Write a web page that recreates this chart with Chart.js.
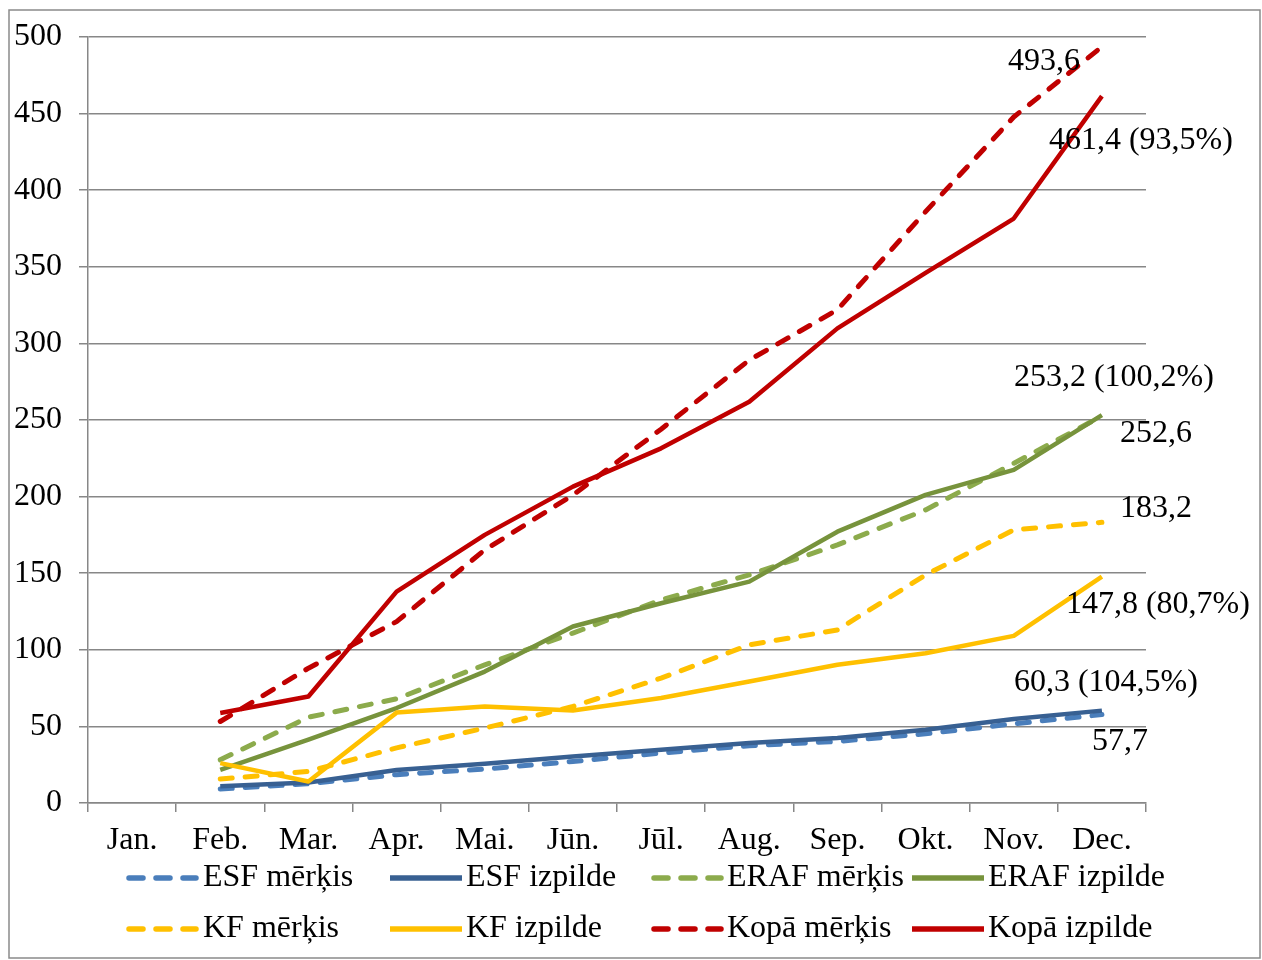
<!DOCTYPE html>
<html>
<head>
<meta charset="utf-8">
<script src="https://cdn.jsdelivr.net/npm/chart.js@4"></script>
<style>
  body { margin: 0; background: #fff; }
  #wrap { width: 1262px; height: 960px; }
</style>
</head>
<body>
<div id="wrap"><canvas id="chart" width="1262" height="960"></canvas></div>
<script>
// ---------- DATA ----------
const months = ["Jan.", "Feb.", "Mar.", "Apr.", "Mai.", "Jūn.", "Jūl.", "Aug.", "Sep.", "Okt.", "Nov.", "Dec."];
const seriesNames = ["ESF mērķis", "ESF izpilde", "ERAF mērķis", "ERAF izpilde",
                     "KF mērķis", "KF izpilde", "Kopā mērķis", "Kopā izpilde"];
const esfTarget  = [null, 9.1, 12.6, 18.5, 22.2, 27.1, 32.6, 37.4, 40.2, 45.2, 51.7, 57.7];
const esfDone    = [null, 10.9, 13.4, 21.5, 25.6, 30.4, 34.8, 39.1, 42.4, 47.8, 54.8, 60.3];
const erafTarget = [null, 28.2, 56, 68, 90.2, 110.9, 132.6, 148.9, 168.5, 191.3, 221.7, 252.6];
const erafDone   = [null, 21.7, 41.3, 62, 85.8, 115.2, 130.4, 144.5, 177.1, 201.1, 217.4, 253.2];
const kfTarget   = [null, 15.6, 20.6, 36, 48.9, 63, 81.5, 103.2, 113, 148.9, 178.3, 183.2];
const kfDone     = [null, 26, 14, 59, 63, 60.4, 68.5, 79.3, 90.2, 97.8, 109.1, 147.8];
const totTarget  = [null, 53.2, 88, 118.4, 165.2, 201, 244, 289.1, 322, 386, 447.8, 493.6];
const totDone    = [null, 58.7, 69.5, 138, 175, 206.5, 231.5, 261.9, 309.8, 346, 381.5, 461.4];
const endLabels  = ["57,7", "60,3 (104,5%)", "252,6", "253,2 (100,2%)",
                    "183,2", "147,8 (80,7%)", "493,6", "461,4 (93,5%)"];
const yTicks = { min: 0, max: 500, step: 50 };

// ---------- STYLE ----------
const FONT = "'Liberation Serif', 'Times New Roman', serif";
const colors = ["#4a7ebb", "#386092", "#8cab4c", "#77933c", "#ffc000", "#ffc000", "#c00000", "#c00000"];
const gridColor = "#878787";
const DASH = [12, 13];

// label offsets from the last point (dx, dy)
const labelOffsets = [[-10, 27], [-88, -28], [18, 18], [-88, -38], [18, -14], [-36, 28], [-94, 15], [-53, 44]];

const allSeries = [esfTarget, esfDone, erafTarget, erafDone, kfTarget, kfDone, totTarget, totDone];

const datasets = allSeries.map((data, i) => {
  const dashed = i % 2 === 0;
  return {
    label: seriesNames[i],
    data,
    borderColor: colors[i],
    backgroundColor: colors[i],
    borderWidth: dashed ? 5 : 4.5,
    borderDash: dashed ? DASH : [],
    borderCapStyle: dashed ? "round" : "butt",
    borderJoinStyle: "round",
    pointRadius: 0,
    tension: 0,
    order: 7 - i
  };
});

// ---------- PLUGINS ----------
const framePlugin = {
  id: "frame",
  beforeDraw(chart) {
    const ctx = chart.ctx;
    ctx.save();
    ctx.fillStyle = "#fff";
    ctx.fillRect(0, 0, chart.width, chart.height);
    ctx.strokeStyle = "#8a8a8a";
    ctx.lineWidth = 1.5;
    ctx.strokeRect(9, 10, 1251, 948);
    ctx.restore();
  }
};

const endLabelPlugin = {
  id: "endLabels",
  afterDatasetsDraw(chart) {
    const ctx = chart.ctx;
    ctx.save();
    ctx.font = "32px " + FONT;
    ctx.fillStyle = "#000";
    ctx.textAlign = "left";
    ctx.textBaseline = "middle";
    chart.data.datasets.forEach((ds, i) => {
      const meta = chart.getDatasetMeta(i);
      const last = meta.data[meta.data.length - 1];
      const [dx, dy] = labelOffsets[i];
      ctx.fillText(endLabels[i], last.x + dx, last.y + dy);
    });
    ctx.restore();
  }
};

const legendPlugin = {
  id: "gridLegend",
  afterDraw(chart) {
    const ctx = chart.ctx;
    const lineX = [126, 390, 651, 912];
    const textX = [203, 466, 727, 988];
    const rowY = [878, 929];
    ctx.save();
    ctx.font = "32px " + FONT;
    ctx.textBaseline = "middle";
    ctx.textAlign = "left";
    chart.data.datasets.forEach((ds, i) => {
      const col = i % 4, row = Math.floor(i / 4);
      const y = rowY[row];
      ctx.beginPath();
      ctx.strokeStyle = ds.borderColor;
      ctx.lineWidth = 5.5;
      if (ds.borderDash.length) {
        ctx.setLineDash([14, 13]);
        ctx.lineCap = "round";
        ctx.moveTo(lineX[col] + 3, y);
        ctx.lineTo(lineX[col] + 70, y);
      } else {
        ctx.setLineDash([]);
        ctx.lineCap = "butt";
        ctx.moveTo(lineX[col], y);
        ctx.lineTo(lineX[col] + 72, y);
      }
      ctx.stroke();
      ctx.setLineDash([]);
      ctx.fillStyle = "#000";
      ctx.fillText(ds.label, textX[col], y);
    });
    ctx.restore();
  }
};

// ---------- CHART ----------
new Chart(document.getElementById("chart"), {
  type: "line",
  data: { labels: months, datasets },
  options: {
    responsive: false,
    animation: false,
    devicePixelRatio: 1,
    spanGaps: true,
    layout: { padding: { left: 10, top: 37, right: 116, bottom: 97 } },
    plugins: { legend: { display: false }, tooltip: { enabled: false } },
    scales: {
      x: {
        type: "category",
        offset: true,
        afterFit(scale) { scale.height = 60; },
        grid: {
          offset: true,
          drawOnChartArea: false,
          drawTicks: true,
          tickLength: 9,
          color: gridColor,
          lineWidth: 1.5
        },
        border: { display: true, color: gridColor, width: 1.5 },
        ticks: {
          color: "#000",
          font: { family: FONT, size: 32 },
          padding: 9,
          maxRotation: 0,
          autoSkip: false
        }
      },
      y: {
        min: yTicks.min,
        max: yTicks.max,
        afterFit(scale) { scale.width = 78; },
        grid: {
          color: gridColor,
          lineWidth: 1.5,
          tickLength: 9
        },
        border: { display: true, color: gridColor, width: 1.5 },
        ticks: {
          stepSize: yTicks.step,
          color: "#000",
          font: { family: FONT, size: 32 },
          padding: 17
        }
      }
    }
  },
  plugins: [framePlugin, endLabelPlugin, legendPlugin]
});
</script>
</body>
</html>
